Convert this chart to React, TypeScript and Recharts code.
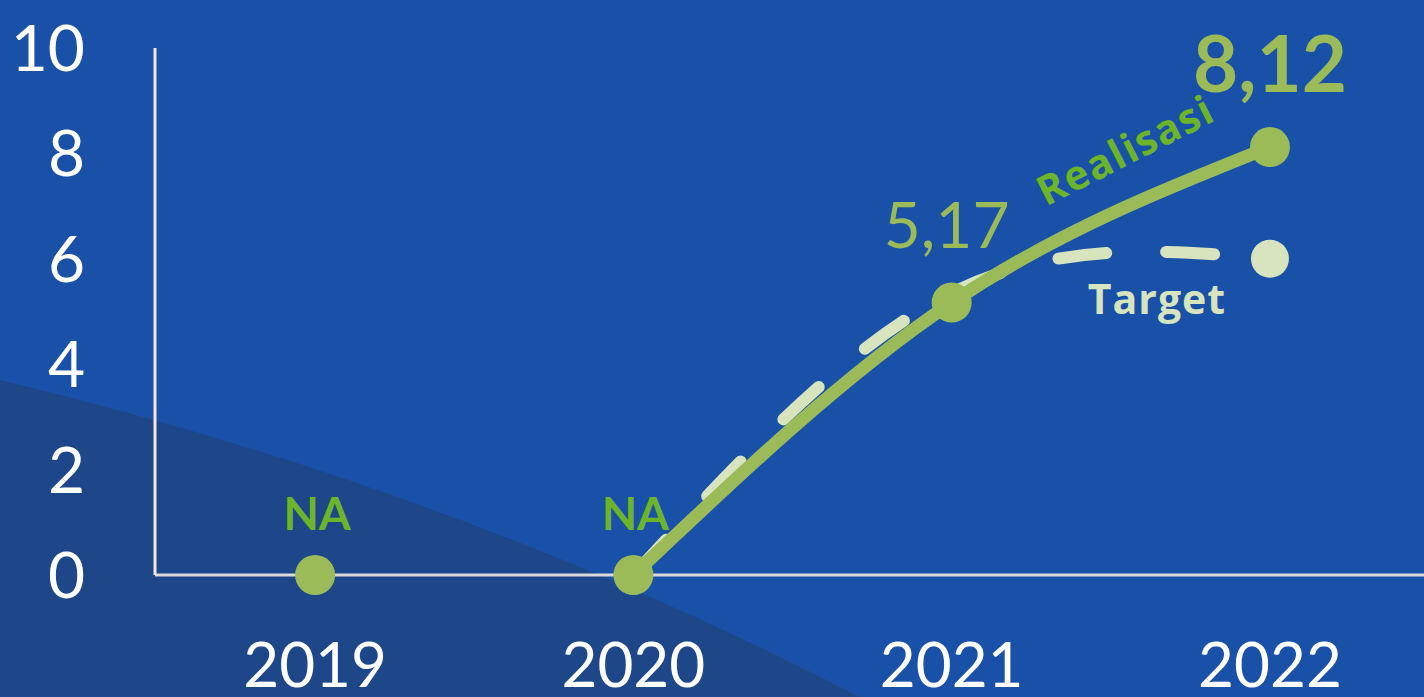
import React from 'react'
import { LineChart, Line, XAxis, YAxis, LabelList } from 'recharts'

const years = [2019, 2020, 2021, 2022]
const realisasi = [0, 0, 5.17, 8.12]
const realisasiLabels = ['NA', 'NA', '5,17', '8,12']
const target = [null, 0, 5.35, 6]
const yTicks = [0, 2, 4, 6, 8, 10]

const data = years.map((year, i) => ({
  year,
  realisasi: realisasi[i],
  // the drawn line starts at 2020, 2019 only gets its dot
  realisasiLine: i === 0 ? null : realisasi[i],
  target: target[i],
}))

const BG = '#1a51a8'
const GREEN = '#9bbb59'
const BRIGHT = '#6cb52a'
const PALE = '#d7e4bd'
const FONT = 'Lato, "Open Sans", sans-serif'
const WIDE = '"Open Sans", Lato, sans-serif'

const YTick = (props: any) => {
  const { x, y, payload } = props
  return (
    <text x={x - 68} y={y} dy={23} textAnchor="end" fill="#ffffff" fontSize={64} fontFamily={FONT}>
      {payload.value}
    </text>
  )
}

const XTick = (props: any) => {
  const { x, y, payload } = props
  return (
    <text x={x} y={y} dy={110} textAnchor="middle" fill="#ffffff" fontSize={62} fontFamily={FONT}>
      {payload.value}
    </text>
  )
}

const RealisasiLabel = (props: any) => {
  const { x, y, index } = props
  const text = realisasiLabels[index]
  if (text === 'NA') {
    return (
      <text x={x + 2} y={y - 45} textAnchor="middle" fill={BRIGHT} fontSize={46} fontWeight={700} fontFamily={FONT}>
        {text}
      </text>
    )
  }
  const last = index === realisasi.length - 1
  return (
    <g>
      <text
        x={last ? x : x - 5}
        y={y - 55}
        textAnchor="middle"
        fill={GREEN}
        fontSize={last ? 78 : 64}
        fontWeight={last ? 700 : 400}
        fontFamily={FONT}
      >
        {text}
      </text>
      {last && (
        <text
          x={x - 138}
          y={y + 16}
          textAnchor="middle"
          fill={BRIGHT}
          fontSize={41}
          fontWeight={700}
          letterSpacing={1.5}
          fontFamily={WIDE}
          transform={`rotate(-27 ${x - 138} ${y + 16})`}
        >
          Realisasi
        </text>
      )}
    </g>
  )
}

const TargetLabel = (props: any) => {
  const { x, y, index } = props
  if (index !== target.length - 1) return null
  return (
    <text x={x - 113} y={y + 55} textAnchor="middle" fill={PALE} fontSize={41} fontWeight={700} letterSpacing={1} fontFamily={WIDE}>
      Target
    </text>
  )
}

const TargetDot = (props: any) => {
  const { cx, cy, index } = props
  if (index !== target.length - 1 || cx == null) return <g key={index} />
  return <circle key={index} cx={cx} cy={cy} r={19} fill={PALE} />
}

export default function App() {
  return (
    <div
      style={{
        position: 'absolute',
        left: 0,
        top: 0,
        width: 1424,
        height: 697,
        background: BG,
        overflow: 'hidden',
      }}
    >
      <svg width={1424} height={697} style={{ position: 'absolute', left: 0, top: 0 }}>
        <path d="M0,380 Q460,490 860,697 L0,697 Z" fill="#1d4789" />
      </svg>
      <div style={{ position: 'absolute', left: 0, top: 0 }}>
        <LineChart width={1424} height={697} data={data} margin={{ top: 48, right: 0, bottom: 0, left: 0 }}>
          <XAxis
            dataKey="year"
            type="number"
            domain={[2018.497, 2022.484]}
            allowDataOverflow
            ticks={years}
            tickLine={false}
            tickSize={0}
            tick={<XTick />}
            height={122}
            axisLine={{ stroke: '#d9d9d9', strokeWidth: 3 }}
          />
          <YAxis
            domain={[0, 10]}
            ticks={yTicks}
            tickLine={false}
            tickSize={0}
            tick={<YTick />}
            width={155}
            axisLine={{ stroke: '#fbe5d6', strokeWidth: 3 }}
          />
          <Line
            dataKey="target"
            type="natural"
            stroke={PALE}
            strokeWidth={12}
            strokeDasharray="48 60"
            strokeLinecap="round"
            dot={<TargetDot />}
            activeDot={false}
            isAnimationActive={false}
          >
            <LabelList dataKey="target" content={<TargetLabel />} />
          </Line>
          <Line
            dataKey="realisasiLine"
            type="natural"
            stroke={GREEN}
            strokeWidth={13}
            dot={false}
            activeDot={false}
            isAnimationActive={false}
          />
          <Line
            dataKey="realisasi"
            type="monotone"
            stroke="none"
            dot={{ r: 20, fill: GREEN, stroke: 'none' }}
            activeDot={false}
            isAnimationActive={false}
          >
            <LabelList dataKey="realisasi" content={<RealisasiLabel />} />
          </Line>
        </LineChart>
      </div>
    </div>
  )
}
